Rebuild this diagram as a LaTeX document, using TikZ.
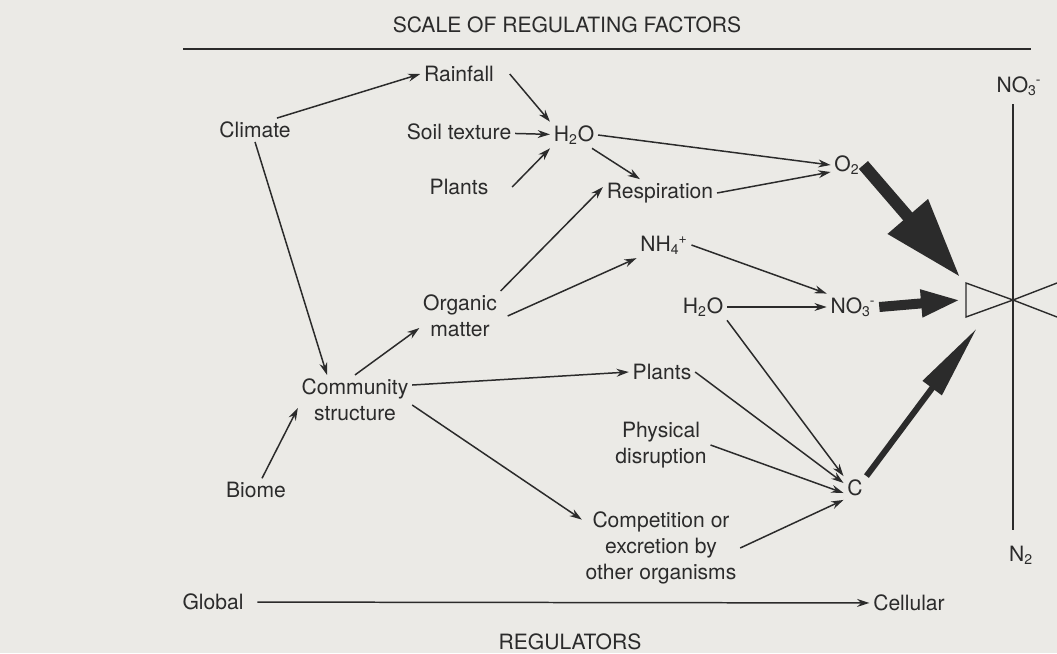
\documentclass[tikz,border=0pt]{standalone}
\usepackage{fontspec}
\setmainfont{TeX Gyre Heros}
\usepackage{tikz}
\usetikzlibrary{arrows.meta}
\definecolor{Paper}{HTML}{EBEAE6}
\definecolor{Ink}{HTML}{2B2B2B}
\newcommand{\ionsub}[2]{\textsubscript{#1}\kern-0.05em\textsuperscript{#2}}

\begin{document}
\begin{tikzpicture}[x=0.02cm, y=0.02cm, >={Stealth[length=7pt,width=4.5pt]},
    lbl/.style={text=Ink, font=\fontsize{12}{15}\selectfont, align=center, inner sep=2pt},
    link/.style={->, Ink, line width=0.85pt}]

    % Page
    \useasboundingbox (0,0) rectangle (1057,-653);
    \fill[Paper] (0,0) rectangle (1057,-653);

    % Title and scale rule
    \node[lbl] (title) at (567,-25) {SCALE OF REGULATING FACTORS};
    \draw[Ink, line width=1.1pt] (183,-49) -- (1031,-49);

    % Regulators (left to right = global to cellular)
    \node[lbl] (climate) at (255,-130) {Climate};
    \node[lbl] (rain) at (459,-74) {Rainfall};
    \node[lbl] (soil) at (459,-132) {Soil texture};
    \node[lbl] (water) at (574,-135) {H\textsubscript{2}O};
    \node[lbl] (plantsA) at (459,-187) {Plants};
    \node[lbl] (oxy) at (847,-165) {O\textsubscript{2}};
    \node[lbl] (resp) at (660,-193) {Respiration};
    \node[lbl] (ammon) at (664,-245) {NH\ionsub{4}{+}};
    \node[lbl] (organic) at (460,-316) {Organic\\matter};
    \node[lbl] (waterB) at (703,-307) {H\textsubscript{2}O};
    \node[lbl] (nitrate) at (853,-307) {NO\ionsub{3}{-}};
    \node[lbl] (commun) at (355,-400) {Community\\structure};
    \node[lbl] (plantsB) at (662,-372) {Plants};
    \node[lbl] (disrupt) at (661,-445) {Physical\\disruption};
    \node[lbl] (biome) at (256,-490) {Biome};
    \node[lbl] (carbon) at (855,-488) {C};
    \node[lbl] (compet) at (661,-548) {Competition or\\excretion by\\other organisms};

    % Scale axis
    \node[lbl] (global) at (213,-602) {Global};
    \node[lbl] (cell) at (909,-603) {Cellular};
    \node[lbl] (regul) at (570,-642) {REGULATORS};

    % Denitrification valve
    \node[lbl] (nitrTop) at (1019,-86) {NO\ionsub{3}{-}};
    \node[lbl] (dinit) at (1021,-555) {N\textsubscript{2}};
    \coordinate (valve) at (1013,-300);
    \coordinate (inO2) at (960,-277);
    \coordinate (inNO3) at (961,-300);
    \coordinate (inC) at (977,-328);
    \draw[Ink, line width=0.8pt] (1013,-104) -- (1013,-530);
    \draw[Ink, line width=0.8pt] (966,-283) -- (966,-317) -- (valve) -- cycle;
    \draw[Ink, line width=0.8pt] (valve) -- (1057,-283);
    \draw[Ink, line width=0.8pt] (valve) -- (1057,-317);

    % Links
    \draw[link] ([xshift=-0.35cm]climate.north east) -- (rain.west);
    \draw[link] (climate.south) -- ([xshift=-0.56cm]commun.north);
    \draw[link] ([xshift=0.24cm]rain.east) -- (water.north west);
    \draw[link] (soil) -- (water);
    \draw[link] ([xshift=0.4cm]plantsA.east) -- (water.south west);
    \draw[link] (water.east) -- (oxy.west);
    \draw[link] ([xshift=-0.12cm]water.south east) -- ([xshift=0.74cm]resp.north west);
    \draw[link] (resp.east) -- ([yshift=-0.14cm]oxy.west);
    \draw[link] (organic.north east) -- ([yshift=0.12cm]resp.west);
    \draw[link] ([xshift=0.14cm]organic.east) -- (ammon.south west);
    \draw[link] (ammon.east) -- (nitrate.north west);
    \draw[link] (waterB) -- (nitrate);
    \draw[link] (waterB.south east) -- (carbon.north west);
    \draw[link] (plantsB.east) -- ([yshift=0.1cm]carbon.west);
    \draw[link] (disrupt.east) -- ([yshift=-0.1cm]carbon.west);
    \draw[link] (compet.east) -- (carbon.south west);
    \draw[link] (commun.north) -- ([yshift=-0.24cm]organic.west);
    \draw[link] ([yshift=0.3cm]commun.east) -- (plantsB.west);
    \draw[link] ([yshift=-0.1cm]commun.east) -- ([yshift=-0.24cm]compet.north west);
    \draw[link] ([xshift=0.12cm]biome.north) -- ([yshift=-0.16cm]commun.west);
    \draw[link, shorten <=0.2cm] (global) -- (cell);

    % Heavy arrows into the valve
    \draw[Ink, line width=0.24cm, -{Triangle[length=1.6cm,width=1cm]}] (oxy.east) -- (inO2);
    \draw[Ink, line width=0.2cm, -{Triangle[length=0.8cm,width=0.5cm]}] (nitrate.east) -- (inNO3);
    \draw[Ink, line width=0.12cm, -{Triangle[length=1.5cm,width=0.45cm]}] (carbon.north east) -- (inC);
\end{tikzpicture}
\end{document}
